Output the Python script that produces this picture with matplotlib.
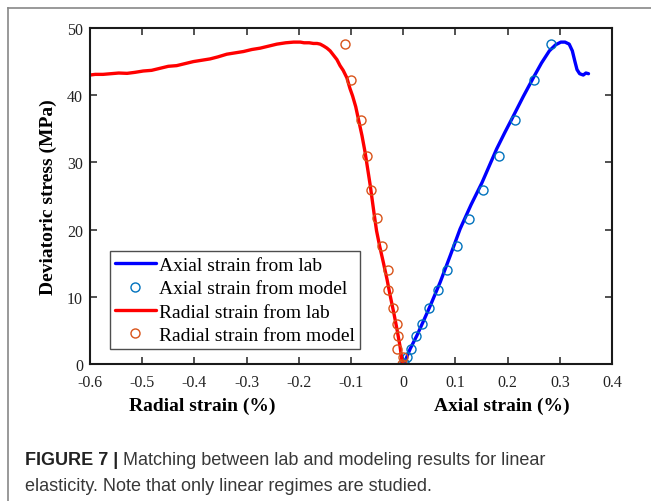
import matplotlib
matplotlib.use("Agg")
import matplotlib.pyplot as plt
from matplotlib.lines import Line2D

# ---- data ----
axial_lab_x = [0.0, 0.003, 0.013, 0.026, 0.040, 0.052, 0.071, 0.090, 0.109, 0.130,
               0.151, 0.165, 0.179, 0.195, 0.211, 0.230, 0.250, 0.265, 0.280,
               0.292, 0.302, 0.310, 0.318, 0.324, 0.329, 0.333, 0.338, 0.345, 0.350, 0.355]
axial_lab_y = [0.0, 0.3, 2.2, 4.2, 6.6, 8.7, 12.2, 16.1, 20.1, 23.7,
               27.0, 29.5, 32.0, 34.5, 36.9, 39.8, 42.7, 44.8, 46.6,
               47.5, 47.9, 47.9, 47.6, 46.6, 45.0, 43.8, 43.2, 43.0, 43.3, 43.2]
axial_model_x = [0.002, 0.007, 0.015, 0.025, 0.036, 0.050, 0.066, 0.084, 0.104, 0.126,
                 0.153, 0.183, 0.215, 0.250, 0.283]
axial_model_y = [0.2, 1.0, 2.3, 4.1, 6.0, 8.3, 11.0, 14.0, 17.6, 21.6,
                 25.9, 30.9, 36.3, 42.3, 47.6]

radial_lab_x = [0.0, -0.002, -0.006, -0.012, -0.018, -0.025, -0.031, -0.038, -0.045,
                -0.051, -0.056, -0.063, -0.068, -0.073, -0.079, -0.086, -0.091, -0.097,
                -0.102, -0.108, -0.115, -0.121, -0.127, -0.134, -0.140, -0.146, -0.152,
                -0.159, -0.165, -0.172, -0.180, -0.190, -0.197, -0.210, -0.225, -0.242,
                -0.258, -0.274, -0.290, -0.306, -0.322, -0.338, -0.355, -0.370, -0.386,
                -0.402, -0.418, -0.434, -0.450, -0.466, -0.482, -0.498, -0.514, -0.529,
                -0.545, -0.560, -0.575, -0.590, -0.600]
radial_lab_y = [0.0, 0.3, 2.6, 5.2, 7.6, 10.2, 12.6, 15.1, 17.5,
                19.8, 22.5, 26.5, 29.0, 31.5, 34.0, 36.5, 38.3, 39.9,
                41.0, 42.6, 43.7, 44.4, 45.3, 46.0, 46.6, 47.0, 47.3,
                47.6, 47.7, 47.7, 47.8, 47.8, 47.9, 47.9, 47.8, 47.6,
                47.3, 47.0, 46.8, 46.5, 46.3, 46.1, 45.7, 45.4, 45.2,
                45.0, 44.7, 44.4, 44.3, 44.0, 43.7, 43.6, 43.4, 43.25,
                43.3, 43.2, 43.1, 43.1, 43.0]
radial_model_x = [-0.002, -0.001, -0.011, -0.010, -0.011, -0.020, -0.029, -0.029, -0.041,
                  -0.051, -0.061, -0.070, -0.081, -0.100, -0.111]
radial_model_y = [0.0, 1.0, 2.3, 4.1, 6.0, 8.3, 11.0, 14.0, 17.6,
                  21.7, 25.9, 30.9, 36.3, 42.3, 47.6]

xticks = [-0.6, -0.5, -0.4, -0.3, -0.2, -0.1, 0.0, 0.1, 0.2, 0.3, 0.4]
xticklabels = ['-0.6', '-0.5', '-0.4', '-0.3', '-0.2', '-0.1', '0', '0.1', '0.2', '0.3', '0.4']
yticks = [0, 10, 20, 30, 40, 50]
yticklabels = ['0', '10', '20', '30', '40', '50']

legend_labels = ['Axial strain from lab', 'Axial strain from model',
                 'Radial strain from lab', 'Radial strain from model']
caption_bold = 'FIGURE 7 |'
caption_rest1 = ' Matching between lab and modeling results for linear'
caption_line2 = 'elasticity. Note that only linear regimes are studied.'

# ---- figure ----
plt.rcParams['font.family'] = ['Liberation Serif', 'DejaVu Serif']
fig = plt.figure(figsize=(6.51, 5.02), dpi=100)
ax = fig.add_axes([90 / 651, 137 / 502, 522 / 651, 336 / 502])

blue = (0, 0, 1)
red = (1, 0, 0)
mblue = (0, 0.447, 0.741)
mred = (0.85, 0.325, 0.098)

l1, = ax.plot(axial_lab_x, axial_lab_y, color=blue, lw=2.4, solid_capstyle='round')
l2, = ax.plot(axial_model_x, axial_model_y, 'o', mfc='none', mec=mblue, ms=6.5, mew=1.0)
l3, = ax.plot(radial_lab_x, radial_lab_y, color=red, lw=2.4, solid_capstyle='round')
l4, = ax.plot(radial_model_x, radial_model_y, 'o', mfc='none', mec=mred, ms=6.5, mew=1.0)

ax.set_xlim(-0.6, 0.4)
ax.set_ylim(0, 50)
ax.set_xticks(xticks)
ax.set_xticklabels(xticklabels)
ax.set_yticks(yticks)
ax.set_yticklabels(yticklabels)
ax.tick_params(direction='in', top=True, right=True, length=5, width=1.1,
               labelsize=11.5, colors='#222222')
ax.tick_params(axis='x', pad=7)
ax.tick_params(axis='y', pad=5)
for sp in ax.spines.values():
    sp.set_linewidth(1.5)
    sp.set_color('#1a1a1a')

leg = ax.legend([l1, l2, l3, l4], legend_labels, loc='upper left',
                bbox_to_anchor=(0.038, 0.335), fontsize=14, frameon=True,
                fancybox=False, edgecolor='#222222', handlelength=2.1,
                borderpad=0.25, labelspacing=0.3, handletextpad=0.2, borderaxespad=0)
leg.get_frame().set_linewidth(1.0)

ax.set_ylabel('Deviatoric stress (MPa)', fontsize=14, fontweight='bold')
ax.yaxis.set_label_coords(-33 / 522, 0.5)
fig.text(202 / 651, 1 - 406 / 502, 'Radial strain (%)', fontsize=14, fontweight='bold',
         ha='center', va='center')
fig.text(502 / 651, 1 - 406 / 502, 'Axial strain (%)', fontsize=14, fontweight='bold',
         ha='center', va='center')

# caption
cap_font = ['Liberation Sans', 'DejaVu Sans']
t1 = fig.text(25 / 651, 1 - 465 / 502, caption_bold, fontsize=13, fontweight='bold',
              family=cap_font, color='#222222', va='baseline')
fig.canvas.draw()
r = fig.canvas.get_renderer()
bb = t1.get_window_extent(renderer=r)
fig.text(bb.x1 / fig.bbox.width, 1 - 465 / 502, caption_rest1, fontsize=13,
         family=cap_font, color='#383838', va='baseline')
fig.text(25 / 651, 1 - 491 / 502, caption_line2, fontsize=13,
         family=cap_font, color='#383838', va='baseline')

# outer frame lines
fig.add_artist(Line2D([8 / 651, 1], [1 - 9 / 502, 1 - 9 / 502], color='#888888', lw=1.2,
                      transform=fig.transFigure))
fig.add_artist(Line2D([8 / 651, 8 / 651], [0, 1 - 9 / 502], color='#888888', lw=1.2,
                      transform=fig.transFigure))

fig.savefig('out.png', dpi=100)
